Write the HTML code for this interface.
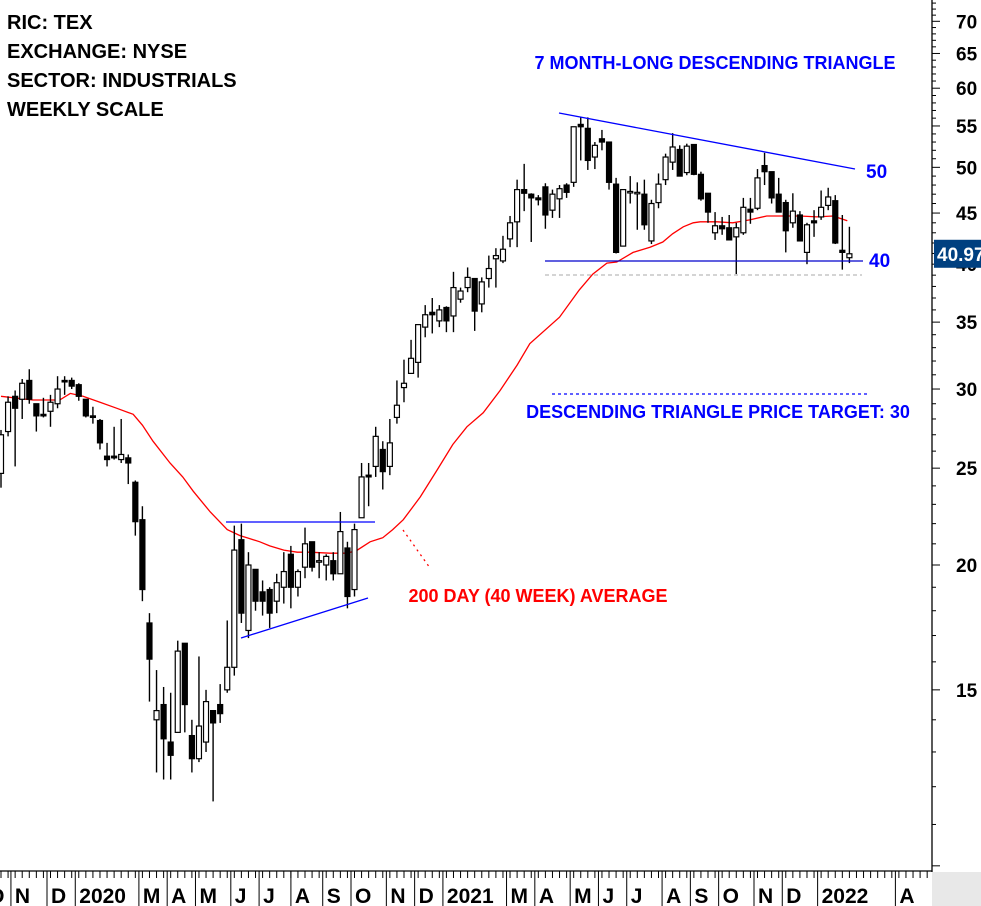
<!DOCTYPE html>
<html><head><meta charset="utf-8"><style>
html,body{margin:0;padding:0;background:#fff;}
svg{display:block;}
text{font-family:"Liberation Sans Narrow","Liberation Sans",sans-serif;font-weight:bold;}
</style></head><body>
<svg id="chart" width="981" height="906" viewBox="0 0 981 906" xmlns="http://www.w3.org/2000/svg">
<rect x="0" y="0" width="981" height="906" fill="#fff"/>
<rect x="932" y="872" width="49" height="34" fill="#e8e8e8"/>
<g id="grid-annot"></g>
<g id="ma"></g>
<g id="candles"></g>
<g id="annot">
<line x1="559" y1="113" x2="855" y2="169" stroke="#0000ff" stroke-width="1.3"/>
<line x1="545" y1="261" x2="863" y2="261" stroke="#0000cc" stroke-width="1.3"/>
<line x1="545" y1="275" x2="862" y2="275" stroke="#aaa" stroke-width="1" stroke-dasharray="4,3"/>
<line x1="552" y1="394" x2="868" y2="394" stroke="#0000ff" stroke-width="1.3" stroke-dasharray="3,3"/>
<line x1="226" y1="522" x2="375" y2="522" stroke="#0000ff" stroke-width="1.3"/>
<line x1="241" y1="638" x2="368" y2="598" stroke="#0000ff" stroke-width="1.3"/>
<line x1="403" y1="530" x2="430" y2="568" stroke="#ff0000" stroke-width="1.3" stroke-dasharray="2,4"/>
<text x="7" y="29" font-size="20" fill="#000">RIC: TEX</text>
<text x="7" y="58" font-size="20" fill="#000">EXCHANGE: NYSE</text>
<text x="7" y="87" font-size="20" fill="#000">SECTOR: INDUSTRIALS</text>
<text x="7" y="116" font-size="20" fill="#000">WEEKLY SCALE</text>
<text x="715" y="69" font-size="18" fill="#0000ff" text-anchor="middle">7 MONTH-LONG DESCENDING TRIANGLE</text>
<text x="866" y="178" font-size="19" fill="#0000ff">50</text>
<text x="869" y="267" font-size="19" fill="#0000ff">40</text>
<text x="718" y="418" font-size="18" fill="#0000ff" text-anchor="middle">DESCENDING TRIANGLE PRICE TARGET: 30</text>
<text x="538" y="602" font-size="18" fill="#ff0000" text-anchor="middle">200 DAY (40 WEEK) AVERAGE</text>
</g>
<g id="axes"></g>
</svg>
<script>
const opens=[24.7,27.2,29.5,29.3,30.6,29.0,28.3,28.5,29.0,30.6,30.6,30.3,29.3,28.2,27.9,25.7,25.7,25.5,25.6,24.2,22.2,17.5,14.0,14.5,13.3,13.6,16.7,13.5,12.8,13.3,14.3,14.5,15.0,15.8,21.2,17.2,19.8,18.8,18.9,18.4,19.0,20.5,19.0,19.9,21.1,20.2,20.0,20.2,19.6,20.8,18.9,22.3,24.6,25.1,26.1,25.1,28.1,30.1,31.1,31.9,34.6,35.8,35.1,36.2,35.5,36.9,37.9,38.7,36.5,38.7,40.5,40.3,42.4,44.1,47.5,47.0,46.6,47.8,45.3,46.5,48.0,48.3,55.2,54.7,51.2,53.4,53.0,48.1,41.7,47.3,47.2,47.0,42.2,46.1,48.6,50.6,52.1,49.4,52.7,49.2,47.1,43.0,43.7,43.5,42.6,43.0,45.4,45.5,50.2,49.5,47.0,46.1,44.0,44.8,41.1,44.2,44.6,45.8,46.3,41.3,40.6];
const highs=[27.3,29.5,29.9,30.7,31.4,29.0,29.4,29.6,30.9,30.9,30.8,30.4,29.3,28.8,28.0,26.5,27.5,28.0,25.8,24.3,22.9,17.9,15.7,15.1,14.9,16.8,16.7,14.0,16.2,15.0,14.3,15.2,17.6,21.9,22.0,20.6,19.8,19.3,19.0,19.6,20.6,20.9,19.8,21.8,21.1,20.6,20.5,20.6,22.6,21.1,22.0,25.3,25.3,27.5,26.6,28.0,30.6,32.1,33.6,34.8,36.4,37.0,36.4,36.3,39.3,37.9,39.7,38.7,38.8,40.8,41.5,42.7,44.7,48.6,50.4,47.1,46.9,48.2,47.5,48.0,48.2,54.9,56.1,56.1,53.0,54.5,53.0,48.8,47.5,49.0,48.3,48.6,46.4,49.3,51.6,54.1,52.6,52.8,52.7,49.5,47.1,45.1,44.6,44.8,44.0,46.6,46.6,49.8,51.7,49.5,48.8,46.4,47.1,45.2,44.0,45.3,47.4,47.7,46.9,44.8,43.6];
const lows=[23.9,26.9,25.1,28.0,29.0,27.2,28.1,27.5,28.7,29.6,30.0,29.2,28.1,27.7,26.1,25.1,25.5,25.3,24.1,21.4,18.4,14.6,12.4,12.2,12.2,13.6,13.6,12.4,12.7,13.0,11.6,13.9,14.9,15.5,17.5,16.9,18.0,17.8,17.3,17.9,18.3,18.1,18.6,19.4,19.7,19.4,19.3,19.3,19.6,18.1,18.6,22.3,22.9,24.5,23.8,24.6,27.7,29.1,31.1,30.8,33.8,34.1,34.6,34.2,34.2,36.6,37.5,34.3,35.8,37.9,37.9,40.1,41.6,41.6,45.2,42.1,45.8,43.4,44.5,44.5,46.6,47.8,50.8,49.7,49.8,52.0,47.5,41.0,41.7,46.0,43.3,43.3,41.9,45.5,48.0,49.7,49.0,49.1,49.1,46.3,44.0,42.3,42.8,42.3,39.1,42.8,43.9,45.3,48.0,46.0,45.1,41.1,43.5,42.2,40.0,42.6,44.3,45.3,41.9,39.5,40.1];
const closes=[27.0,29.1,28.7,30.4,29.3,28.2,28.2,29.1,30.0,30.5,30.2,29.5,28.2,28.1,26.5,25.5,25.6,25.8,25.3,22.1,18.9,16.1,14.3,13.4,12.9,16.4,14.5,12.8,13.8,14.6,13.9,14.2,15.8,20.7,17.9,20.0,18.4,18.4,17.9,19.2,19.7,19.0,19.7,21.0,19.9,20.2,20.4,19.6,21.6,18.6,21.7,24.5,24.5,26.9,24.8,26.5,28.9,30.4,32.2,34.8,35.6,35.6,36.0,35.1,37.9,37.6,38.8,35.9,38.4,39.6,40.8,41.4,44.0,47.5,47.1,46.6,46.4,44.8,47.0,47.6,47.2,54.9,54.9,50.8,52.6,53.0,48.3,41.1,47.5,47.3,47.2,43.8,46.0,48.1,51.2,52.4,49.0,52.5,49.2,46.5,45.1,43.7,43.4,42.3,43.5,45.6,45.1,48.8,49.5,46.6,45.1,43.2,45.2,42.2,43.8,44.0,45.6,46.7,42.0,41.1,40.97];
const maIndex=[0,4.5,8.3,9.8,11.6,14,16.4,18.7,20,21.5,23.9,25.7,27.2,29.6,32,33.8,34.8,36.6,38,40,41.9,43.7,46.5,49,50.4,52.2,54,55.4,56.9,59.3,61.7,63.9,65.9,68.2,70.6,73,74.8,79,81.8,83.7,85.7,87.1,89.4,91.8,93.6,95,96.5,97.9,98.9,101.3,103.5,105.9,108.3,110.6,113,115.4,117.7,119.7];
const maValues=[29.5,29.25,29.25,29.7,29.5,29.1,28.7,28.3,27.6,26.6,25.3,24.5,23.7,22.6,21.7,21.4,21.3,21.1,20.9,20.7,20.6,20.6,20.55,20.55,20.7,21.1,21.3,21.7,22.2,23.4,24.9,26.4,27.5,28.4,29.9,31.7,33.3,35.4,37.7,39.1,40.1,40.2,41.1,41.6,42.1,42.9,43.6,44.0,44.1,44.1,44.0,44.3,44.7,44.7,44.7,44.6,44.7,44.2];
const priceTicks=[15,20,25,30,35,40,45,50,55,60,65,70];
const monthLabels=["O","N","D","2020","M","A","M","J","J","A","S","O","N","D","2021","M","A","M","J","J","A","S","O","N","D","2022","A"];
const monthWeek=[-1.9,1.9,7,11,20,24,28,33,37,41.5,46,50,55,59,63,72,76,81,85,89,94,98,102,107,111,116,127];
const lastPrice=40.97;

const NS="http://www.w3.org/2000/svg";
function yS(p){return 565-434*Math.log(p/20);}
function xS(i){return 1+i*7.07;}
function mk(tag,attrs,parent){const e=document.createElementNS(NS,tag);for(const k in attrs)e.setAttribute(k,attrs[k]);parent.appendChild(e);return e;}

const cg=document.getElementById('candles');
for(let i=0;i<opens.length;i++){
  const x=xS(i),o=opens[i],c=closes[i],up=c>=o;
  const g=mk('g',{},cg);
  
  
  const w=mk('line',{x1:x,x2:x,y1:yS(highs[i]),y2:yS(lows[i]),stroke:'#000','stroke-width':1.4},g);
  
  
  const top=yS(Math.max(o,c)),bot=yS(Math.min(o,c));
  const r=mk('rect',{x:x-2.5,y:top,width:5,height:Math.max(1.5,bot-top),fill:up?'#fff':'#000',stroke:'#000','stroke-width':1.2},g);
  
  
}
const mg=document.getElementById('ma');
let d='';
for(let k=0;k<maIndex.length;k++){d+=(k?'L':'M')+xS(maIndex[k]).toFixed(1)+','+yS(maValues[k]).toFixed(1);}
const mp=mk('path',{d:d,fill:'none',stroke:'#ff0000','stroke-width':1.3},mg);



const ax=document.getElementById('axes');
const yl=mk('line',{x1:932,x2:932,y1:0,y2:872,stroke:'#000','stroke-width':1.3},ax);


const xl=mk('line',{x1:0,x2:932,y1:871,y2:871,stroke:'#000','stroke-width':1.3},ax);


for(let p=10;p<=75;p++){
  const major=p%5===0;
  const t=mk('line',{x1:932,x2:major?940:936,y1:yS(p),y2:yS(p),stroke:'#000','stroke-width':1},ax);
  
  
}
for(const p of priceTicks){
  const t=mk('text',{x:956,y:yS(p)+7,'font-size':19,fill:'#000'},ax);
  
  
  t.textContent=String(p);
}
const pb=mk('rect',{x:934,y:yS(lastPrice)-14,width:47,height:28,fill:'#004080'},ax);


const pt=mk('text',{x:937,y:yS(lastPrice)+7,'font-size':19,fill:'#fff'},ax);


pt.textContent=lastPrice.toFixed(2);
for(let i=0;i<133;i++){
  const x=xS(i);if(x>931)break;
  const t=mk('line',{x1:x,x2:x,y1:871,y2:878,stroke:'#000','stroke-width':1},ax);
  
  
}
for(let k=0;k<monthLabels.length;k++){
  const sx=xS(monthWeek[k])-3.5;
  if(sx>0){
    const s=mk('line',{x1:sx,x2:sx,y1:871,y2:906,stroke:'#000','stroke-width':1},ax);
    
    
  }
  const t=mk('text',{x:sx+4,y:903,'font-size':21,fill:'#000'},ax);
  
  
  t.textContent=monthLabels[k];
}
</script>
</body></html>
